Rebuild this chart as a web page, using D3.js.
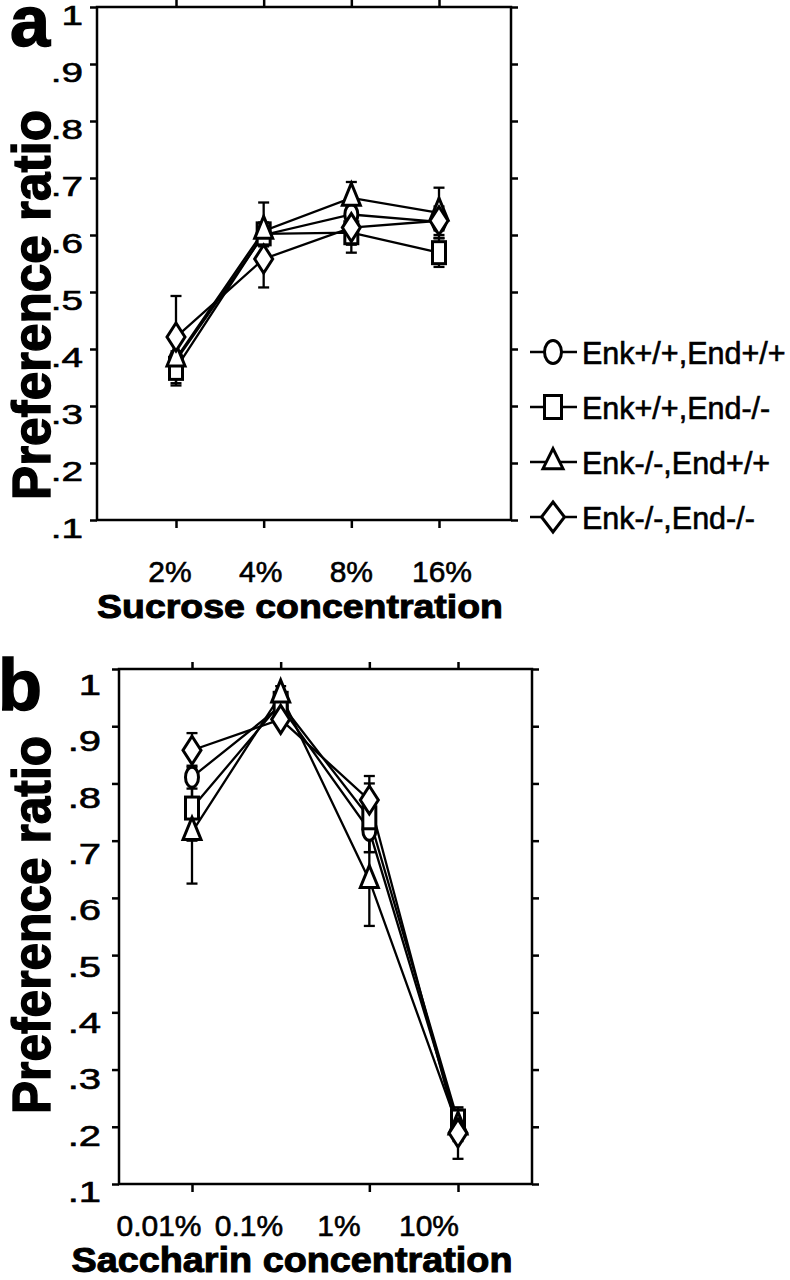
<!DOCTYPE html>
<html><head><meta charset="utf-8">
<script src="https://cdn.jsdelivr.net/npm/d3@7"></script>
<style>
body{margin:0;background:#fff}
svg{display:block}
text{font-family:"Liberation Sans",Arial,Helvetica,sans-serif;fill:#000}
</style>
</head><body>
<svg id="chart" width="790" height="1280"></svg>
<script>
// ---------- data ----------
const sucroseCats = ["2%", "4%", "8%", "16%"];
const saccharinCats = ["0.01%", "0.1%", "1%", "10%"];
const groupNames = ["Enk+/+,End+/+", "Enk+/+,End-/-", "Enk-/-,End+/+", "Enk-/-,End-/-"];
const groupShapes = ["circle", "square", "triangle", "diamond"];
const yTickValues = [1, 0.9, 0.8, 0.7, 0.6, 0.5, 0.4, 0.3, 0.2, 0.1];
const yTickLabels = ["1", ".9", ".8", ".7", ".6", ".5", ".4", ".3", ".2", ".1"];

// Sucrose (panel a)
const sucroseWT      = [0.380, 0.600, 0.636, 0.623];
const sucroseEndKO   = [0.366, 0.602, 0.604, 0.569];
const sucroseEnkKO   = [0.383, 0.607, 0.665, 0.639];
const sucroseDKO     = [0.421, 0.558, 0.613, 0.625];
const sucroseWTErr    = [0.040, 0.020, 0.015, 0.015];
const sucroseEndKOErr = [0.030, 0.020, 0.035, 0.025];
const sucroseEnkKOErr = [0.035, 0.050, 0.028, 0.044];
const sucroseDKOErr   = [0.072, 0.050, 0.030, 0.025];

// Saccharin (panel b)
const saccharinWT      = [0.811, 0.935, 0.718, 0.205];
const saccharinEndKO   = [0.757, 0.940, 0.740, 0.210];
const saccharinEnkKO   = [0.715, 0.955, 0.631, 0.200];
const saccharinDKO     = [0.858, 0.912, 0.771, 0.189];
const saccharinWTErr    = [0.020, 0.010, 0.038, 0.020];
const saccharinEndKOErr = [0.057, 0.010, 0.060, 0.020];
const saccharinEnkKOErr = [0.090, 0.015, 0.080, 0.025];
const saccharinDKOErr   = [0.030, 0.010, 0.042, 0.045];

// ---------- drawing ----------
const svg = d3.select("#chart");

const markerSize = {
  circle: {w: 13, h: 20},
  square: {w: 13, h: 22},
  triangle: {w: 18, h: 22},
  diamond: {w: 18, h: 28}
};
const legendMarkerSize = {
  circle: {w: 17, h: 23},
  square: {w: 17, h: 23},
  triangle: {w: 20, h: 20},
  diamond: {w: 23, h: 30}
};

function drawMarker(g, shape, x, y, size, sw) {
  const w = size.w, h = size.h;
  let el;
  if (shape === "circle") {
    el = g.append("ellipse").attr("cx", x).attr("cy", y).attr("rx", w / 2).attr("ry", h / 2);
  } else if (shape === "square") {
    el = g.append("rect").attr("x", x - w / 2).attr("y", y - h / 2).attr("width", w).attr("height", h);
  } else if (shape === "triangle") {
    const p = d3.path();
    p.moveTo(x, y - 2 * h / 3); p.lineTo(x + w / 2, y + h / 3); p.lineTo(x - w / 2, y + h / 3); p.closePath();
    el = g.append("path").attr("d", p.toString());
  } else {
    const p = d3.path();
    p.moveTo(x, y - h / 2); p.lineTo(x + w / 2, y); p.lineTo(x, y + h / 2); p.lineTo(x - w / 2, y); p.closePath();
    el = g.append("path").attr("d", p.toString());
  }
  el.attr("fill", "#fff").attr("stroke", "#000").attr("stroke-width", sw).attr("stroke-linejoin", "miter");
}

const heavy = (sel, w) => sel.attr("stroke", "#000").attr("stroke-width", w).attr("paint-order", "stroke");

function drawPanel(cfg) {
  const g = svg.append("g");
  const x = d3.scalePoint().domain(cfg.cats).range([cfg.first, cfg.last]);
  const xLab = d3.scalePoint().domain(cfg.cats).range([cfg.labFirst, cfg.labLast]);
  const y = d3.scaleLinear().domain([0.1, 1]).range([cfg.bottom, cfg.top]);
  const yLab = d3.scaleLinear().domain([0.1, 1]).range([cfg.yLabBottom, cfg.yLabTop]);

  // frame
  g.append("rect").attr("x", cfg.left).attr("y", cfg.top)
    .attr("width", cfg.right - cfg.left).attr("height", cfg.bottom - cfg.top)
    .attr("fill", "none").attr("stroke", "#000").attr("stroke-width", 2.5);

  const styleAxis = sel => {
    sel.select(".domain").remove();
    sel.selectAll(".tick line").attr("stroke", "#000").attr("stroke-width", 2.5);
    sel.selectAll(".tick text").remove();
  };
  g.append("g").attr("transform", `translate(${cfg.left},0)`)
    .call(d3.axisLeft(y).tickValues(yTickValues).tickSize(7).tickFormat(() => "")).call(styleAxis);
  g.append("g").attr("transform", `translate(${cfg.right},0)`)
    .call(d3.axisRight(y).tickValues(yTickValues).tickSize(7).tickFormat(() => "")).call(styleAxis);
  g.append("g").attr("transform", `translate(0,${cfg.top})`)
    .call(d3.axisTop(x).tickSize(7).tickFormat(() => "")).call(styleAxis);
  g.append("g").attr("transform", `translate(0,${cfg.bottom})`)
    .call(d3.axisBottom(x).tickValues(cfg.bottomTicks).tickSize(8).tickFormat(() => "")).call(styleAxis);

  // y tick labels (wide digits)
  yTickValues.forEach((v, i) => {
    g.append("g").attr("transform", `translate(${cfg.yLabAnchor},${yLab(v)})`)
      .append("text").attr("text-anchor", "end").attr("transform", `scale(${cfg.yLabStretch},1)`)
      .style("font-size", cfg.yLabSize + "px").call(heavy, 0.6).text(yTickLabels[i]);
  });

  // x tick labels
  cfg.cats.forEach(c => {
    g.append("text").attr("x", xLab(c)).attr("y", cfg.labBase).attr("text-anchor", "middle")
      .style("font-size", cfg.xLabSize + "px").call(heavy, 0.6).text(c);
  });

  // x title
  g.append("text").attr("x", cfg.xTitleX).attr("y", cfg.xTitleY).attr("text-anchor", "middle")
    .attr("textLength", cfg.xTitleLen).attr("lengthAdjust", "spacingAndGlyphs")
    .style("font-size", cfg.xTitleSize + "px").style("font-weight", "bold").call(heavy, 1).text(cfg.xTitle);

  // y title
  g.append("text").attr("transform", `translate(${cfg.yTitleX},${cfg.yTitleY}) rotate(-90)`)
    .attr("text-anchor", "middle").attr("textLength", cfg.yTitleLen).attr("lengthAdjust", "spacingAndGlyphs")
    .style("font-size", "54px").style("font-weight", "bold").call(heavy, 1.4).text("Preference ratio");

  // panel letter
  g.append("text").attr("x", cfg.letterX).attr("y", cfg.letterY)
    .style("font-size", "72px").style("font-weight", "bold").call(heavy, 1.5).text(cfg.letter);

  const line = d3.line().x((d, i) => x(cfg.cats[i])).y(d => y(d));
  const plot = g.append("g");
  // lines
  cfg.means.forEach(m => {
    plot.append("path").attr("d", line(m)).attr("fill", "none").attr("stroke", "#000").attr("stroke-width", 2.3);
  });
  // error bars
  cfg.means.forEach((m, s) => {
    m.forEach((v, i) => {
      const e = cfg.errs[s][i];
      const cx = x(cfg.cats[i]);
      const eg = plot.append("g").attr("stroke", "#000").attr("stroke-width", 2.3);
      eg.append("line").attr("x1", cx).attr("x2", cx).attr("y1", y(v - e)).attr("y2", y(v + e));
      [v - e, v + e].forEach(t => {
        eg.append("line").attr("x1", cx - 5.5).attr("x2", cx + 5.5).attr("y1", y(t)).attr("y2", y(t));
      });
    });
  });
  // markers
  cfg.means.forEach((m, s) => {
    m.forEach((v, i) => {
      drawMarker(plot, groupShapes[s], x(cfg.cats[i]), y(v), markerSize[groupShapes[s]], 3);
    });
  });
}

drawPanel({
  letter: "a", letterX: 10, letterY: 46,
  cats: sucroseCats, bottomTicks: sucroseCats,
  left: 97, right: 511, top: 7, bottom: 520,
  first: 176, last: 439,
  labFirst: 170, labLast: 442, labBase: 582, xLabSize: 30,
  yLabAnchor: 83, yLabTop: 25, yLabBottom: 538, yLabSize: 28, yLabStretch: 1.38,
  xTitle: "Sucrose concentration", xTitleX: 300, xTitleY: 618, xTitleLen: 406, xTitleSize: 34,
  yTitleX: 50, yTitleY: 305, yTitleLen: 390,
  means: [sucroseWT, sucroseEndKO, sucroseEnkKO, sucroseDKO],
  errs: [sucroseWTErr, sucroseEndKOErr, sucroseEnkKOErr, sucroseDKOErr]
});

drawPanel({
  letter: "b", letterX: -2, letterY: 710,
  cats: saccharinCats, bottomTicks: ["0.01%", "1%", "10%"],
  left: 119, right: 532, top: 669, bottom: 1184,
  first: 192, last: 458,
  labFirst: 159, labLast: 429, labBase: 1236, xLabSize: 30,
  yLabAnchor: 101, yLabTop: 695, yLabBottom: 1202, yLabSize: 29, yLabStretch: 1.38,
  xTitle: "Saccharin concentration", xTitleX: 292, xTitleY: 1272, xTitleLen: 441, xTitleSize: 35,
  yTitleX: 50, yTitleY: 925, yTitleLen: 378,
  means: [saccharinWT, saccharinEndKO, saccharinEnkKO, saccharinDKO],
  errs: [saccharinWTErr, saccharinEndKOErr, saccharinEnkKOErr, saccharinDKOErr]
});

// legend
const legendRows = [352, 407, 462, 517];
const leg = svg.append("g");
groupNames.forEach((name, i) => {
  const cy = legendRows[i];
  leg.append("line").attr("x1", 530).attr("x2", 577).attr("y1", cy).attr("y2", cy)
    .attr("stroke", "#000").attr("stroke-width", 2.3);
  drawMarker(leg, groupShapes[i], 553, cy, legendMarkerSize[groupShapes[i]], 3);
  leg.append("text").attr("x", 582).attr("y", cy + 12).style("font-size", "30.5px")
    .call(heavy, 0.6).text(name);
});
</script>
</body></html>
